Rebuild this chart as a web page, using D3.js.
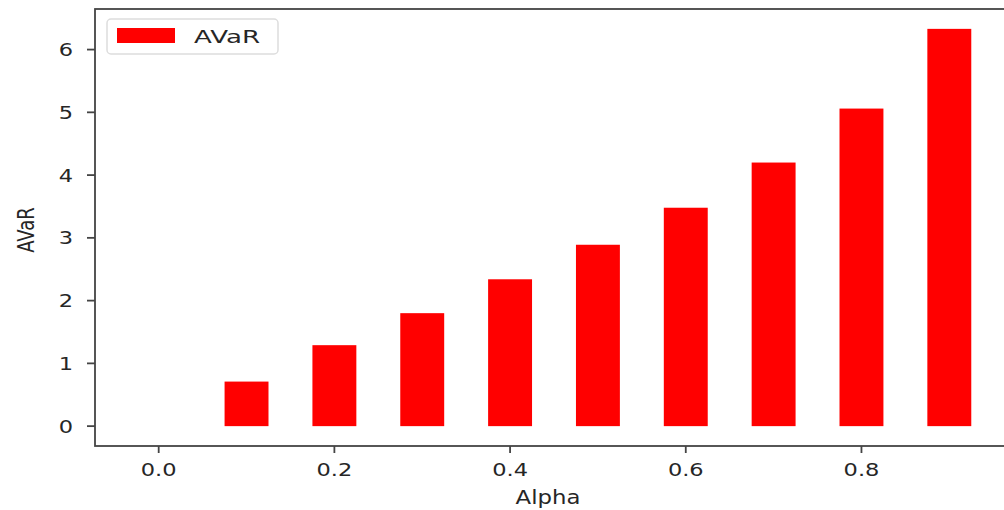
<!DOCTYPE html>
<html>
<head>
<meta charset="utf-8">
<script src="https://cdn.jsdelivr.net/npm/d3@7"></script>
<style>
  body { margin: 0; background: #fff; }
  text { font-family: "DejaVu Sans", sans-serif; fill: #262626; }
</style>
</head>
<body>
<script>
// values
var alphas = [0.0, 0.1, 0.2, 0.3, 0.4, 0.5, 0.6, 0.7, 0.8, 0.9];
var avar = [0, 0.71, 1.29, 1.80, 2.34, 2.89, 3.48, 4.20, 5.06, 6.33];
var xTicks = [0.0, 0.2, 0.4, 0.6, 0.8];
var yTicks = [0, 1, 2, 3, 4, 5, 6];
var seriesName = "AVaR";

var w = 1004;
var h = 510;
var barWidth = 0.05;

// plot box (window.top is read-only, so no bare "top" here)
var plotLeft = 95, plotRight = 1013, plotTop = 9, plotBottom = 446;

var xScale = d3.scaleLinear()
    .domain([-0.0725, 0.9725])
    .range([plotLeft, plotRight]);

var yScale = d3.scaleLinear()
    .domain([-0.3165, 6.6465])
    .range([plotBottom, plotTop]);

var svg = d3.select("body")
    .append("svg")
    .attr("width", w)
    .attr("height", h);

// bars
svg.selectAll("rect.bar")
    .data(avar)
    .enter()
    .append("rect")
    .attr("class", "bar")
    .attr("x", function(d, i){
        return xScale(alphas[i] - barWidth / 2);
    })
    .attr("y", function(d){
        return yScale(d);
    })
    .attr("width", function(d, i){
        return xScale(alphas[i] + barWidth / 2) - xScale(alphas[i] - barWidth / 2);
    })
    .attr("height", function(d){
        return yScale(0) - yScale(d);
    })
    .style("fill", "#ff0000");

// spines
svg.append("rect")
    .attr("x", plotLeft)
    .attr("y", plotTop)
    .attr("width", plotRight - plotLeft)
    .attr("height", plotBottom - plotTop)
    .style("fill", "none")
    .style("stroke", "#444")
    .style("stroke-width", 1.8);

// y ticks
svg.selectAll("line.ytick")
    .data(yTicks)
    .enter()
    .append("line")
    .attr("x1", plotLeft - 8)
    .attr("x2", plotLeft)
    .attr("y1", function(d){ return yScale(d); })
    .attr("y2", function(d){ return yScale(d); })
    .style("stroke", "#444")
    .style("stroke-width", 1.8);

svg.selectAll("text.ytick")
    .data(yTicks)
    .enter()
    .append("text")
    .attr("text-anchor", "end")
    .attr("transform", function(d){
        return "translate(73," + (yScale(d) + 6.5) + ") scale(1.25,1)";
    })
    .style("font-size", "18px")
    .text(function(d){ return d; });

// x ticks
svg.selectAll("line.xtick")
    .data(xTicks)
    .enter()
    .append("line")
    .attr("x1", function(d){ return xScale(d); })
    .attr("x2", function(d){ return xScale(d); })
    .attr("y1", plotBottom)
    .attr("y2", plotBottom + 7)
    .style("stroke", "#444")
    .style("stroke-width", 1.8);

svg.selectAll("text.xtick")
    .data(xTicks)
    .enter()
    .append("text")
    .attr("text-anchor", "middle")
    .attr("transform", function(d){
        return "translate(" + xScale(d) + ",476) scale(1.25,1)";
    })
    .style("font-size", "18px")
    .text(function(d){ return d.toFixed(1); });

// axis labels
svg.append("text")
    .attr("text-anchor", "middle")
    .attr("transform", "translate(548,504) scale(1.2,1)")
    .style("font-size", "19px")
    .text("Alpha");

svg.append("text")
    .attr("text-anchor", "middle")
    .attr("transform", "translate(34,230) rotate(-90) scale(0.95,1.2)")
    .style("font-size", "19px")
    .text(seriesName);

// legend
var legend = svg.append("g");

legend.append("rect")
    .attr("x", 107)
    .attr("y", 19)
    .attr("width", 171)
    .attr("height", 35)
    .attr("rx", 4)
    .style("fill", "#fff")
    .style("stroke", "#ddd")
    .style("stroke-width", 1.5);

legend.append("rect")
    .attr("x", 117)
    .attr("y", 28)
    .attr("width", 58)
    .attr("height", 15)
    .style("fill", "#ff0000");

legend.append("text")
    .attr("transform", "translate(194,43) scale(1.45,1)")
    .style("font-size", "18px")
    .text(seriesName);
</script>
</body>
</html>
